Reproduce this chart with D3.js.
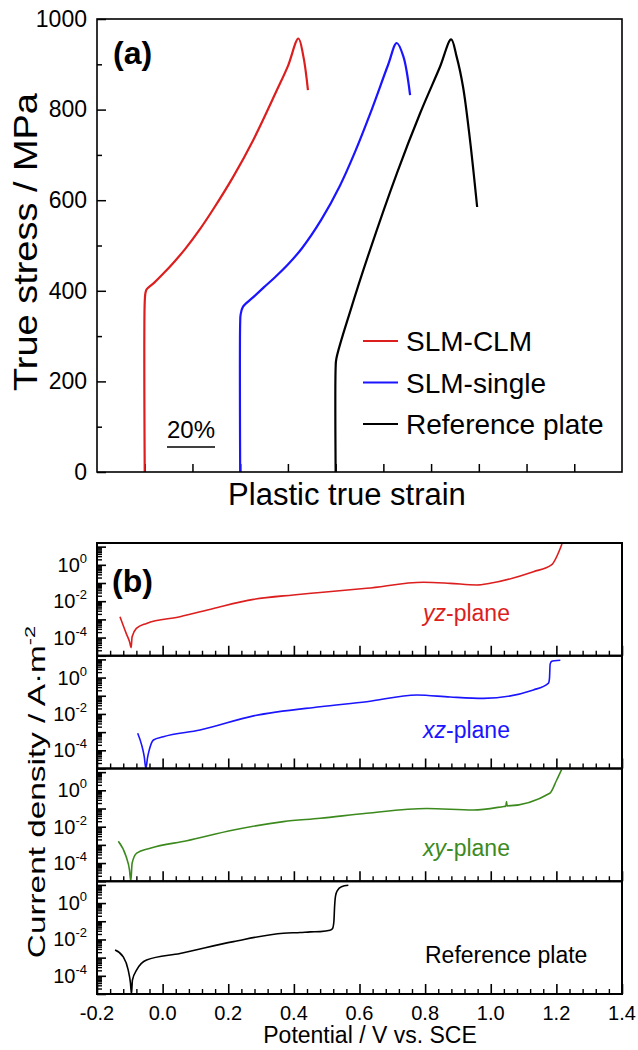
<!DOCTYPE html>
<html>
<head>
<meta charset="utf-8">
<script src="https://cdn.jsdelivr.net/npm/d3@7"></script>
<style>
  body { margin: 0; background: #fff; }
  svg { display: block; font-family: "Liberation Sans", Arial, sans-serif; }
</style>
</head>
<body>
<svg id="fig"></svg>
<script>
// ---- panel (a): true stress vs plastic true strain ----
const stressTicks = [0, 200, 400, 600, 800, 1000];
const stressMinor = [100, 300, 500, 700, 900];
const strainTicks = [0.2, 0.4, 0.6, 0.8, 1.0, 1.2, 1.4, 1.6, 1.8, 2.0];

// [strain (offset), stress MPa]
const slmClm = [[0.2,0],[0.2,375],[0.203,395],[0.208,403],[0.24,418],[0.278,438],[0.327,466],[0.369,492],
  [0.43,535],[0.487,580],[0.57,651],[0.655,733],[0.753,842],[0.80,896],[0.844,957],[0.865,917],[0.884,843]];
const slmSingle = [[0.6,0],[0.6,330],[0.602,348],[0.612,365],[0.655,386],[0.70,408],[0.746,430],[0.80,458],
  [0.859,494],[0.94,557],[1.018,632],[1.08,705],[1.144,790],[1.22,899],[1.256,947],[1.284,917],[1.312,832]];
const refPlate = [[1.0,0],[1.0,230],[1.003,250],[1.063,358],[1.144,490],[1.257,660],[1.354,792],[1.437,894],
  [1.484,955],[1.507,917],[1.534,850],[1.563,733],[1.593,585]];
const legendNames = ["SLM-CLM", "SLM-single", "Reference plate"];

// ---- panel (b): polarisation curves ----
const potTicks = [-0.2, 0.0, 0.2, 0.4, 0.6, 0.8, 1.0, 1.2, 1.4];
const potLabels = ["-0.2", "0.0", "0.2", "0.4", "0.6", "0.8", "1.0", "1.2", "1.4"];
const decadeLabels = [0, -2, -4];

// [potential V vs SCE, current density A/m2]
const yzPlane = [[-0.130,1.4e-3],[-0.111,1.7e-4],[-0.101,6e-5],[-0.096,2.8e-5],[-0.093,1.1e-4],[-0.080,3.2e-4],
  [-0.049,6e-4],[0.053,1.4e-3],[0.155,4e-3],[0.277,1.26e-2],[0.398,2.2e-2],[0.48,3e-2],[0.622,5.1e-2],
  [0.795,0.11],[0.876,0.096],[0.957,0.078],[0.998,0.096],[1.13,0.42],[1.185,0.98],[1.217,14]];
const xzPlane = [[-0.076,8.7e-4],[-0.064,2e-4],[-0.056,4.5e-5],[-0.051,1e-5],[-0.046,4e-5],[-0.041,1e-4],
  [-0.028,3.7e-4],[0.002,5.6e-4],[0.114,1.3e-3],[0.277,7.8e-3],[0.48,2.5e-2],[0.622,4.7e-2],[0.775,0.11],
  [0.876,0.085],[0.978,0.072],[1.13,0.21],[1.176,0.5],[1.179,0.9],[1.181,5.5],[1.186,7.8],[1.195,8.5],[1.212,9]];
const xyPlane = [[-0.135,1.6e-3],[-0.111,2.2e-4],[-0.101,4.2e-5],[-0.097,1e-5],[-0.093,9.8e-5],[-0.079,3.5e-4],
  [-0.038,6.5e-4],[0.074,1.7e-3],[0.216,6.6e-3],[0.368,1.9e-2],[0.48,2.9e-2],[0.622,5.5e-2],[0.805,0.10],
  [0.947,0.083],[1.04,0.13],[1.046,0.135],[1.048,0.24],[1.05,0.14],[1.18,0.69],[1.201,3.7],[1.216,14]];
const refPolar = [[-0.145,2.6e-3],[-0.120,1.1e-3],[-0.105,2.1e-4],[-0.098,3.9e-5],[-0.095,1e-5],[-0.092,5.9e-5],
  [-0.079,2.1e-4],[-0.049,7.4e-4],[0.053,1.7e-3],[0.216,7.6e-3],[0.368,2.2e-2],[0.42,2.4e-2],[0.45,2.6e-2],
  [0.48,2.7e-2],[0.51,3.2e-2],[0.518,4e-2],[0.522,0.1],[0.524,0.6],[0.527,2.5],[0.533,5],[0.545,8],[0.566,9.5]];

const W = 638, H = 1050;
const svg = d3.select("#fig").attr("width", W).attr("height", H);
svg.append("rect").attr("width", W).attr("height", H).attr("fill", "#fff");

const noAxisFont = g => g.attr("font-size", null).attr("font-family", null);

// ================= (a) =================
const A = { left: 97, right: 622, top: 19, bottom: 472 };
const xA = d3.scaleLinear().domain([0, 2.2]).range([A.left, A.right]);
const yA = d3.scaleLinear().domain([0, 1000]).range([A.bottom, A.top]);

const gA = svg.append("g");

gA.append("g")
  .attr("transform", `translate(${A.left},0)`)
  .call(d3.axisLeft(yA).tickValues(stressTicks).tickFormat(d3.format("d"))
    .tickSizeInner(-9).tickSizeOuter(0).tickPadding(10))
  .call(noAxisFont)
  .call(g => g.select(".domain").remove())
  .call(g => g.selectAll("line").attr("stroke", "#000").attr("stroke-width", 1.5))
  .selectAll("text").attr("font-size", 23).attr("fill", "#000");

gA.append("g")
  .attr("transform", `translate(${A.left},0)`)
  .call(d3.axisLeft(yA).tickValues(stressMinor).tickSizeInner(-5).tickSizeOuter(0).tickFormat(""))
  .call(g => g.select(".domain").remove())
  .selectAll("line").attr("stroke", "#000").attr("stroke-width", 1.5);

gA.append("g")
  .attr("transform", `translate(0,${A.bottom})`)
  .call(d3.axisBottom(xA).tickValues(strainTicks).tickSizeInner(-8).tickSizeOuter(0).tickFormat(""))
  .call(g => g.select(".domain").remove())
  .selectAll("line").attr("stroke", "#000").attr("stroke-width", 1.5);

const lineA = d3.line()
  .x(d => xA(d[0])).y(d => yA(d[1]))
  .curve(d3.curveCatmullRom.alpha(0.5));

const seriesA = [
  { data: slmClm, color: "#dc1e1e" },
  { data: slmSingle, color: "#1a14ff" },
  { data: refPlate, color: "#000" }
];
gA.selectAll("path.curve")
  .data(seriesA)
  .join("path")
  .attr("class", "curve")
  .attr("d", d => lineA(d.data))
  .attr("fill", "none")
  .attr("stroke", d => d.color)
  .attr("stroke-width", 2.2)
  .attr("stroke-linejoin", "round");

gA.append("rect")
  .attr("x", A.left).attr("y", A.top)
  .attr("width", A.right - A.left).attr("height", A.bottom - A.top)
  .attr("fill", "none").attr("stroke", "#000").attr("stroke-width", 1.6);

gA.append("text").attr("x", 113).attr("y", 64)
  .attr("font-size", 32).attr("font-weight", 700).text("(a)");

// scale bar
gA.append("line")
  .attr("x1", 167).attr("x2", 215).attr("y1", 447).attr("y2", 447)
  .attr("stroke", "#000").attr("stroke-width", 1.5);
gA.append("text").attr("x", 191).attr("y", 438)
  .attr("text-anchor", "middle").attr("font-size", 24).text("20%");

// legend
const leg = gA.append("g");
seriesA.forEach((s, i) => {
  const ly = 341 + i * 41.5;
  leg.append("line").attr("x1", 363).attr("x2", 398).attr("y1", ly).attr("y2", ly)
    .attr("stroke", s.color).attr("stroke-width", 2);
  leg.append("text").attr("x", 406).attr("y", ly + 10)
    .attr("font-size", 28).text(legendNames[i]);
});

gA.append("text")
  .attr("x", 347).attr("y", 505)
  .attr("text-anchor", "middle").attr("font-size", 31)
  .text("Plastic true strain");

gA.append("text")
  .attr("transform", `translate(37,242) rotate(-90) scale(1.15,1)`)
  .attr("text-anchor", "middle").attr("font-size", 33)
  .text("True stress / MPa");

// ================= (b) =================
const B = { left: 97, right: 622, top: 543, bottom: 994 };
const subH = (B.bottom - B.top) / 4;
const xB = d3.scaleLinear().domain([-0.2, 1.4]).range([B.left, B.right]);
const potMinor = d3.range(-5, 36).filter(i => i % 5 !== 0).map(i => i * 0.04);
const decades = d3.range(-5, 2).map(e => Math.pow(10, e));
const decMinor = [];
d3.range(-5, 1).forEach(e => { for (let k = 2; k <= 9; k++) decMinor.push(k * Math.pow(10, e)); });

const lineCfg = [
  { data: yzPlane, color: "#dc1e1e", italic: "yz", rest: "-plane", ly: 621 },
  { data: xzPlane, color: "#1a14ff", italic: "xz", rest: "-plane", ly: 738 },
  { data: xyPlane, color: "#3c8a1e", italic: "xy", rest: "-plane", ly: 856 },
  { data: refPolar, color: "#000", italic: "", rest: "Reference plate", ly: 963 }
];

lineCfg.forEach((cfg, i) => {
  const top = B.top + i * subH, bot = top + subH;
  const yB = d3.scaleLog().domain([1e-5, Math.pow(10, 1.2)]).range([bot, top]);
  const g = svg.append("g");

  const clipId = "clip" + i;
  g.append("clipPath").attr("id", clipId)
    .append("rect").attr("x", B.left).attr("y", top)
    .attr("width", B.right - B.left).attr("height", subH);

  // left ticks (inward)
  g.append("g").attr("transform", `translate(${B.left},0)`)
    .call(d3.axisLeft(yB).tickValues(decades).tickSizeInner(-9).tickSizeOuter(0).tickFormat(""))
    .call(a => a.select(".domain").remove())
    .selectAll("line").attr("stroke", "#000").attr("stroke-width", 1.6);
  g.append("g").attr("transform", `translate(${B.left},0)`)
    .call(d3.axisLeft(yB).tickValues(decMinor).tickSizeInner(-5).tickSizeOuter(0).tickFormat(""))
    .call(a => a.select(".domain").remove())
    .selectAll("line").attr("stroke", "#000").attr("stroke-width", 1.4);

  // bottom ticks (inward)
  g.append("g").attr("transform", `translate(0,${bot})`)
    .call(d3.axisBottom(xB).tickValues(potTicks).tickSizeInner(-10).tickSizeOuter(0).tickFormat(""))
    .call(a => a.select(".domain").remove())
    .selectAll("line").attr("stroke", "#000").attr("stroke-width", 1.6);
  g.append("g").attr("transform", `translate(0,${bot})`)
    .call(d3.axisBottom(xB).tickValues(potMinor).tickSizeInner(-5).tickSizeOuter(0).tickFormat(""))
    .call(a => a.select(".domain").remove())
    .selectAll("line").attr("stroke", "#000").attr("stroke-width", 1.4);

  // decade labels 10^n
  decadeLabels.forEach(e => {
    const t = g.append("text")
      .attr("x", B.left - 10).attr("y", yB(Math.pow(10, e)) + 7)
      .attr("text-anchor", "end").attr("font-size", 20);
    t.append("tspan").text("10");
    t.append("tspan").attr("font-size", 13).attr("dy", -9).text(String(e));
  });

  const lineB = d3.line()
    .x(d => xB(d[0])).y(d => yB(d[1]))
    .curve(d3.curveMonotoneX);
  g.append("path")
    .attr("d", lineB(cfg.data))
    .attr("clip-path", `url(#${clipId})`)
    .attr("fill", "none").attr("stroke", cfg.color)
    .attr("stroke-width", 1.6).attr("stroke-linejoin", "round");

  g.append("rect")
    .attr("x", B.left).attr("y", top)
    .attr("width", B.right - B.left).attr("height", subH)
    .attr("fill", "none").attr("stroke", "#000").attr("stroke-width", 2);

  const lab = g.append("text")
    .attr("x", cfg.italic ? 423 : 425).attr("y", cfg.ly)
    .attr("font-size", 23).attr("fill", cfg.color);
  if (cfg.italic) lab.append("tspan").attr("font-style", "italic").text(cfg.italic);
  lab.append("tspan").text(cfg.rest);

  if (i === 3) {
    potTicks.forEach((v, k) => {
      g.append("text").attr("x", xB(v)).attr("y", 1020)
        .attr("text-anchor", "middle").attr("font-size", 20).text(potLabels[k]);
    });
  }
});

svg.append("text").attr("x", 112).attr("y", 592)
  .attr("font-size", 32).attr("font-weight", 700).text("(b)");

svg.append("text").attr("x", 370).attr("y", 1043)
  .attr("text-anchor", "middle").attr("font-size", 23)
  .text("Potential / V vs. SCE");

const yl = svg.append("text")
  .attr("transform", `translate(45,792) rotate(-90) scale(1.45,1)`)
  .attr("text-anchor", "middle").attr("font-size", 23);
yl.append("tspan").text("Current density / A\u00b7m");
yl.append("tspan").attr("font-size", 15).attr("dy", -10).text("-2");
</script>
</body>
</html>
